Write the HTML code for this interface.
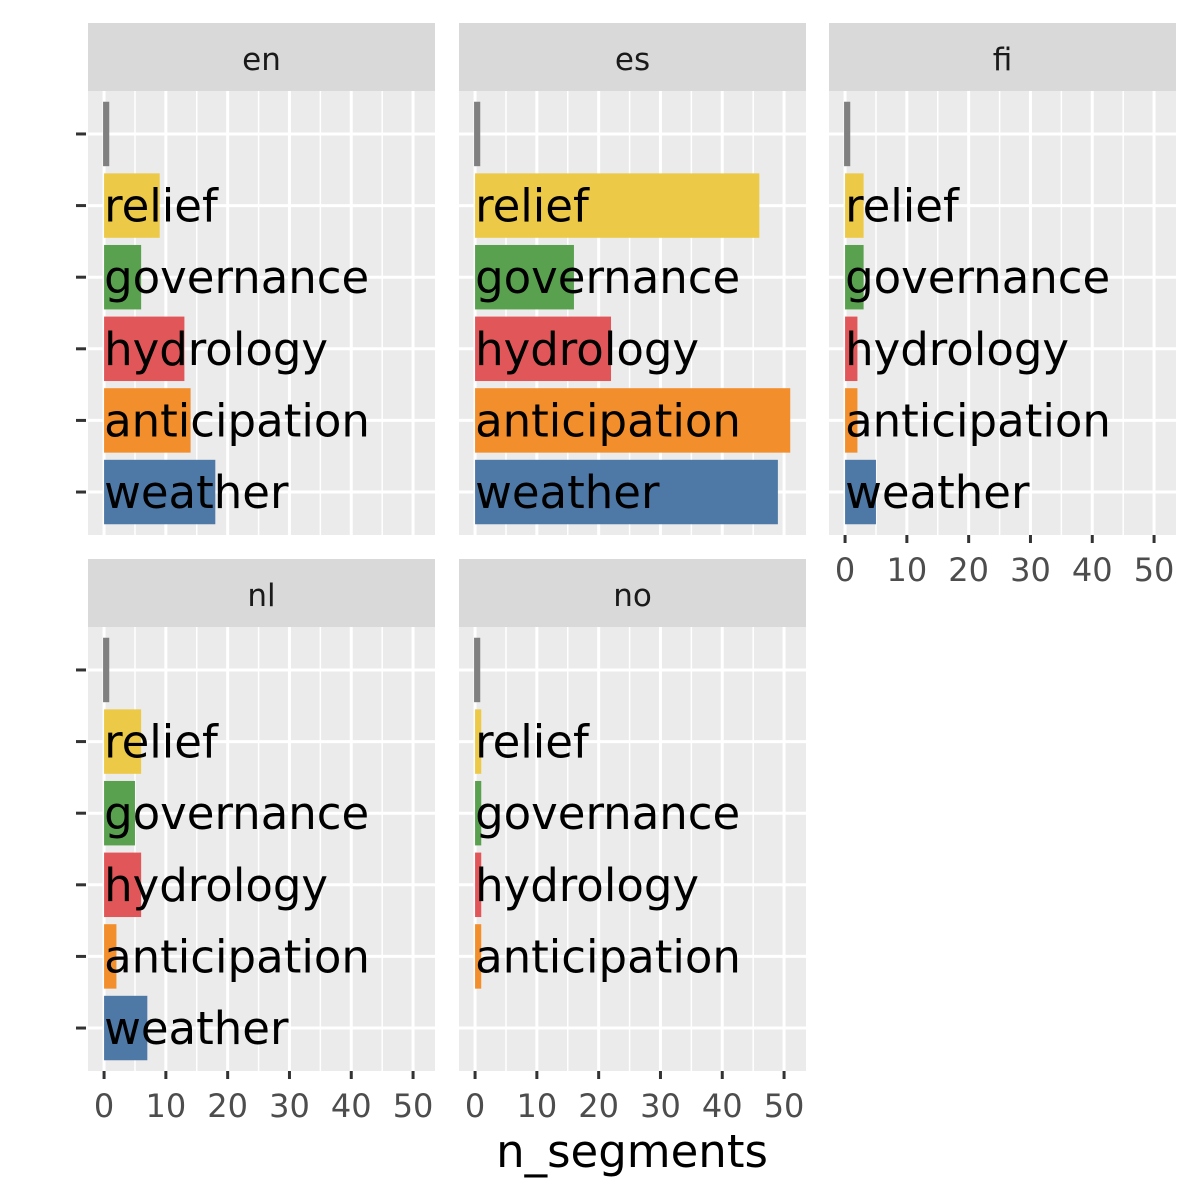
<!DOCTYPE html>
<html><head><meta charset="utf-8"><style>
html,body{margin:0;padding:0;background:#fff;}
svg{display:block;font-family:"DejaVu Sans","Liberation Sans",sans-serif;}
</style></head><body>
<svg id="chart" width="1200" height="1200" viewBox="0 0 1200 1200"></svg>
<script>
const categories = ["-", "relief", "governance", "hydrology", "anticipation", "weather"];
const colors = ["#808080", "#EDC948", "#59A14F", "#E15759", "#F28E2B", "#4E79A7"];
const facets = ["en", "es", "fi", "nl", "no"];
const valuesEn = [1, 9, 6, 13, 14, 18];
const valuesEs = [1, 46, 16, 22, 51, 49];
const valuesFi = [1, 3, 3, 2, 2, 5];
const valuesNl = [1, 6, 5, 6, 2, 7];
const valuesNo = [1, 1, 1, 1, 1, null];
const xTicks = [0, 10, 20, 30, 40, 50];
const xMinor = [5, 15, 25, 35, 45];

const NS = "http://www.w3.org/2000/svg";
const svg = document.getElementById("chart");
function mk(tag, attrs, parent) {
  const e = document.createElementNS(NS, tag);
  for (const k in attrs) e.setAttribute(k, attrs[k]);
  (parent || svg).appendChild(e);
  return e;
}
const panels = [
  {name: "en", vals: valuesEn, x0: 88, y0: 91, xaxis: false},
  {name: "es", vals: valuesEs, x0: 459, y0: 91, xaxis: false},
  {name: "fi", vals: valuesFi, x0: 829, y0: 91, xaxis: true},
  {name: "nl", vals: valuesNl, x0: 88, y0: 627, xaxis: true},
  {name: "no", vals: valuesNo, x0: 459, y0: 627, xaxis: true}
];
const PW = 347, PH = 444, STRIP = 68;
const dMin = -2.6, dMax = 53.55;

panels.forEach((p, pi) => {
  const g = mk("g", {});
  
  
  const xs = v => p.x0 + (v - dMin) / (dMax - dMin) * PW;
  const ys = i => p.y0 + (i + 1 - 0.4) / 6.2 * PH;
  const st = mk("rect", {x: p.x0, y: p.y0 - STRIP, width: PW, height: STRIP, fill: "#D9D9D9"}, g);
  
  
  const stt = mk("text", {x: p.x0 + PW / 2, y: p.y0 - STRIP / 2 + 13, "text-anchor": "middle", "font-size": 31, fill: "#1A1A1A"}, g);
  stt.textContent = p.name;
  
  
  const bg = mk("rect", {x: p.x0, y: p.y0, width: PW, height: PH, fill: "#EBEBEB"}, g);
  
  
  xMinor.forEach(v => {
    const l = mk("line", {x1: xs(v), x2: xs(v), y1: p.y0, y2: p.y0 + PH, stroke: "#fff", "stroke-width": 1.5}, g);
    
    
  });
  xTicks.forEach(v => {
    const l = mk("line", {x1: xs(v), x2: xs(v), y1: p.y0, y2: p.y0 + PH, stroke: "#fff", "stroke-width": 3}, g);
    
    
  });
  categories.forEach((c, i) => {
    const l = mk("line", {x1: p.x0, x2: p.x0 + PW, y1: ys(i), y2: ys(i), stroke: "#fff", "stroke-width": 3}, g);
    
    
  });
  const bh = 0.9 / 6.2 * PH;
  p.vals.forEach((v, i) => {
    if (v === null || v === undefined) return;
    const w = xs(v) - xs(0);
    const r = mk("rect", {x: xs(0) - (i === 0 ? 1 : 0), y: ys(i) - bh / 2, width: w, height: bh, fill: colors[i]}, g);
    
    
    if (i > 0) {
      const t = mk("text", {x: xs(0), y: ys(i) + 16, "font-size": 45, fill: "#000"}, g);
      t.textContent = categories[i];
      
      
    }
  });
  if (p.x0 === 88) {
    categories.forEach((c, i) => {
      const l = mk("line", {x1: 76, x2: 86, y1: ys(i), y2: ys(i), stroke: "#333", "stroke-width": 3}, g);
      
      
    });
  }
  if (p.xaxis) {
    xTicks.forEach(v => {
      const l = mk("line", {x1: xs(v), x2: xs(v), y1: p.y0 + PH, y2: p.y0 + PH + 8, stroke: "#333", "stroke-width": 3}, g);
      
      
      const t = mk("text", {x: xs(v), y: p.y0 + PH + 46, "text-anchor": "middle", "font-size": 32, fill: "#4D4D4D"}, g);
      t.textContent = v;
      
      
    });
  }
});
const title = mk("text", {x: 632, y: 1167, "text-anchor": "middle", "font-size": 45, fill: "#000"});
title.textContent = "n_segments";


</script>
</body></html>
